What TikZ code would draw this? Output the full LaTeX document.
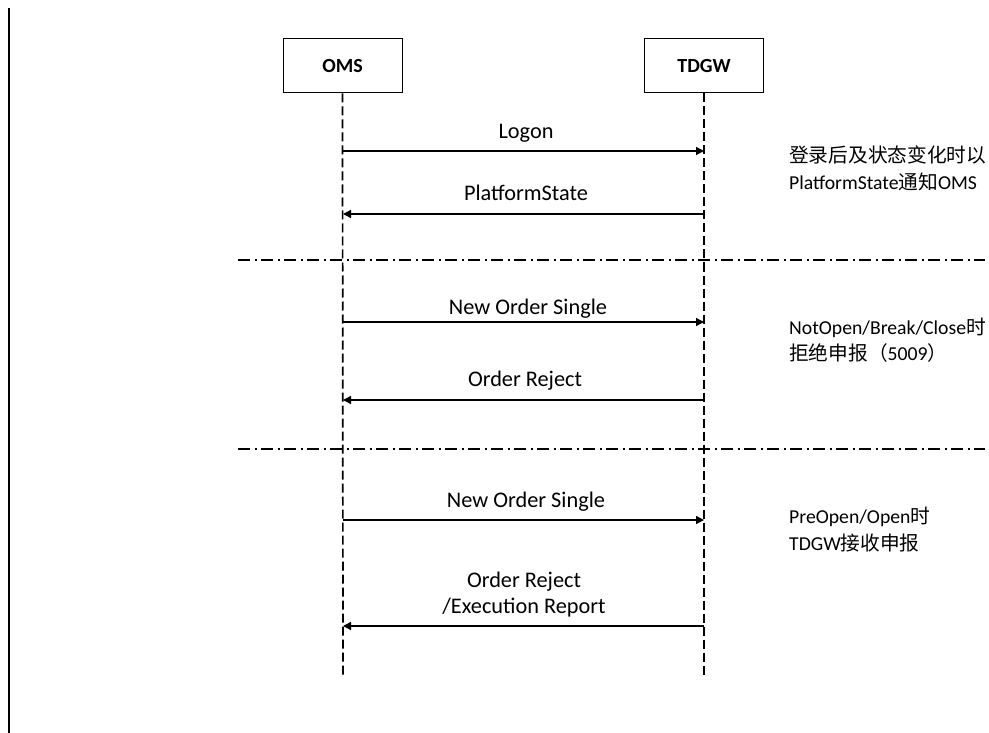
\documentclass[tikz,border=0pt]{standalone}
\usepackage{fontspec}
\setmainfont{Carlito}
\newfontfamily\cjk{Noto Sans CJK SC}
\usetikzlibrary{arrows.meta}
\tikzset{
  actor/.style={draw, line width=1pt, minimum width=119pt, minimum height=54pt, inner sep=0pt, font=\fontsize{20}{24}\selectfont\bfseries},
  life/.style={line width=1.7pt, dash pattern=on 9pt off 4pt},
  msg/.style={line width=1.3pt, -{Triangle[length=8pt,width=8pt]}},
  sep/.style={line width=1.4pt, dash pattern=on 12pt off 4.5pt on 2pt off 4.5pt},
  mlabel/.style={anchor=base, inner sep=0pt, font=\fontsize{22.3}{26}\selectfont},
  note/.style={anchor=base west, inner sep=0pt, font=\fontsize{19.7}{24}\selectfont},
}
\begin{document}
\begin{tikzpicture}[x=1pt, y=-1pt]
\useasboundingbox (0,0) rectangle (989,733);
\draw[line width=2pt] (9,8) -- (9,733);
\node[actor] (oms) at (342.5,66) {OMS};
\node[actor] (tdgw) at (704,66) {TDGW};
\coordinate (omsE) at (343,678);
\coordinate (tdgwE) at (704,678);
\draw[life] (oms.south) -- (omsE);
\draw[life] (tdgw.south) -- (tdgwE);
% separators
\coordinate (s1a) at (238,260); \coordinate (s1b) at (985,260);
\coordinate (s2a) at (238,449); \coordinate (s2b) at (985,449);
\draw[sep] (s1a) -- (s1b);
\draw[sep] (s2a) -- (s2b);
% messages
\draw[msg] (omsE |- 0,151) -- (tdgwE |- 0,151);
\draw[msg] (tdgwE |- 0,214) -- (omsE |- 0,214);
\draw[msg] (omsE |- 0,322) -- (tdgwE |- 0,322);
\draw[msg] (tdgwE |- 0,400) -- (omsE |- 0,400);
\draw[msg] (omsE |- 0,520) -- (tdgwE |- 0,520);
\draw[msg] (tdgwE |- 0,626) -- (omsE |- 0,626);
% labels
\node[mlabel] (l1) at (526,139) {Logon};
\node[mlabel] (l2) at (526,201) {PlatformState};
\node[mlabel] (l3) at (528,314) {New Order Single};
\node[mlabel] (l4) at (525,386) {Order Reject};
\node[mlabel] (l5) at (526,507) {New Order Single};
\node[mlabel] (l6) at (524,587) {Order Reject};
\node[mlabel] (l7) at (524,613) {/Execution Report};
% notes
\node[note] (n1) at (789,163) {\cjk 登录后及状态变化时以};
\node[note] (n2) at (789,190) {PlatformState{\cjk 通知}OMS};
\node[note] (n3) at (789,334) {NotOpen/Break/Close{\cjk 时}};
\node[note] (n4) at (789,360) {{\cjk 拒绝申报（}5009{\cjk ）}};
\node[note] (n5) at (789,523) {PreOpen/Open{\cjk 时}};
\node[note] (n6) at (789,550) {TDGW{\cjk 接收申报}};
\end{tikzpicture}
\end{document}
